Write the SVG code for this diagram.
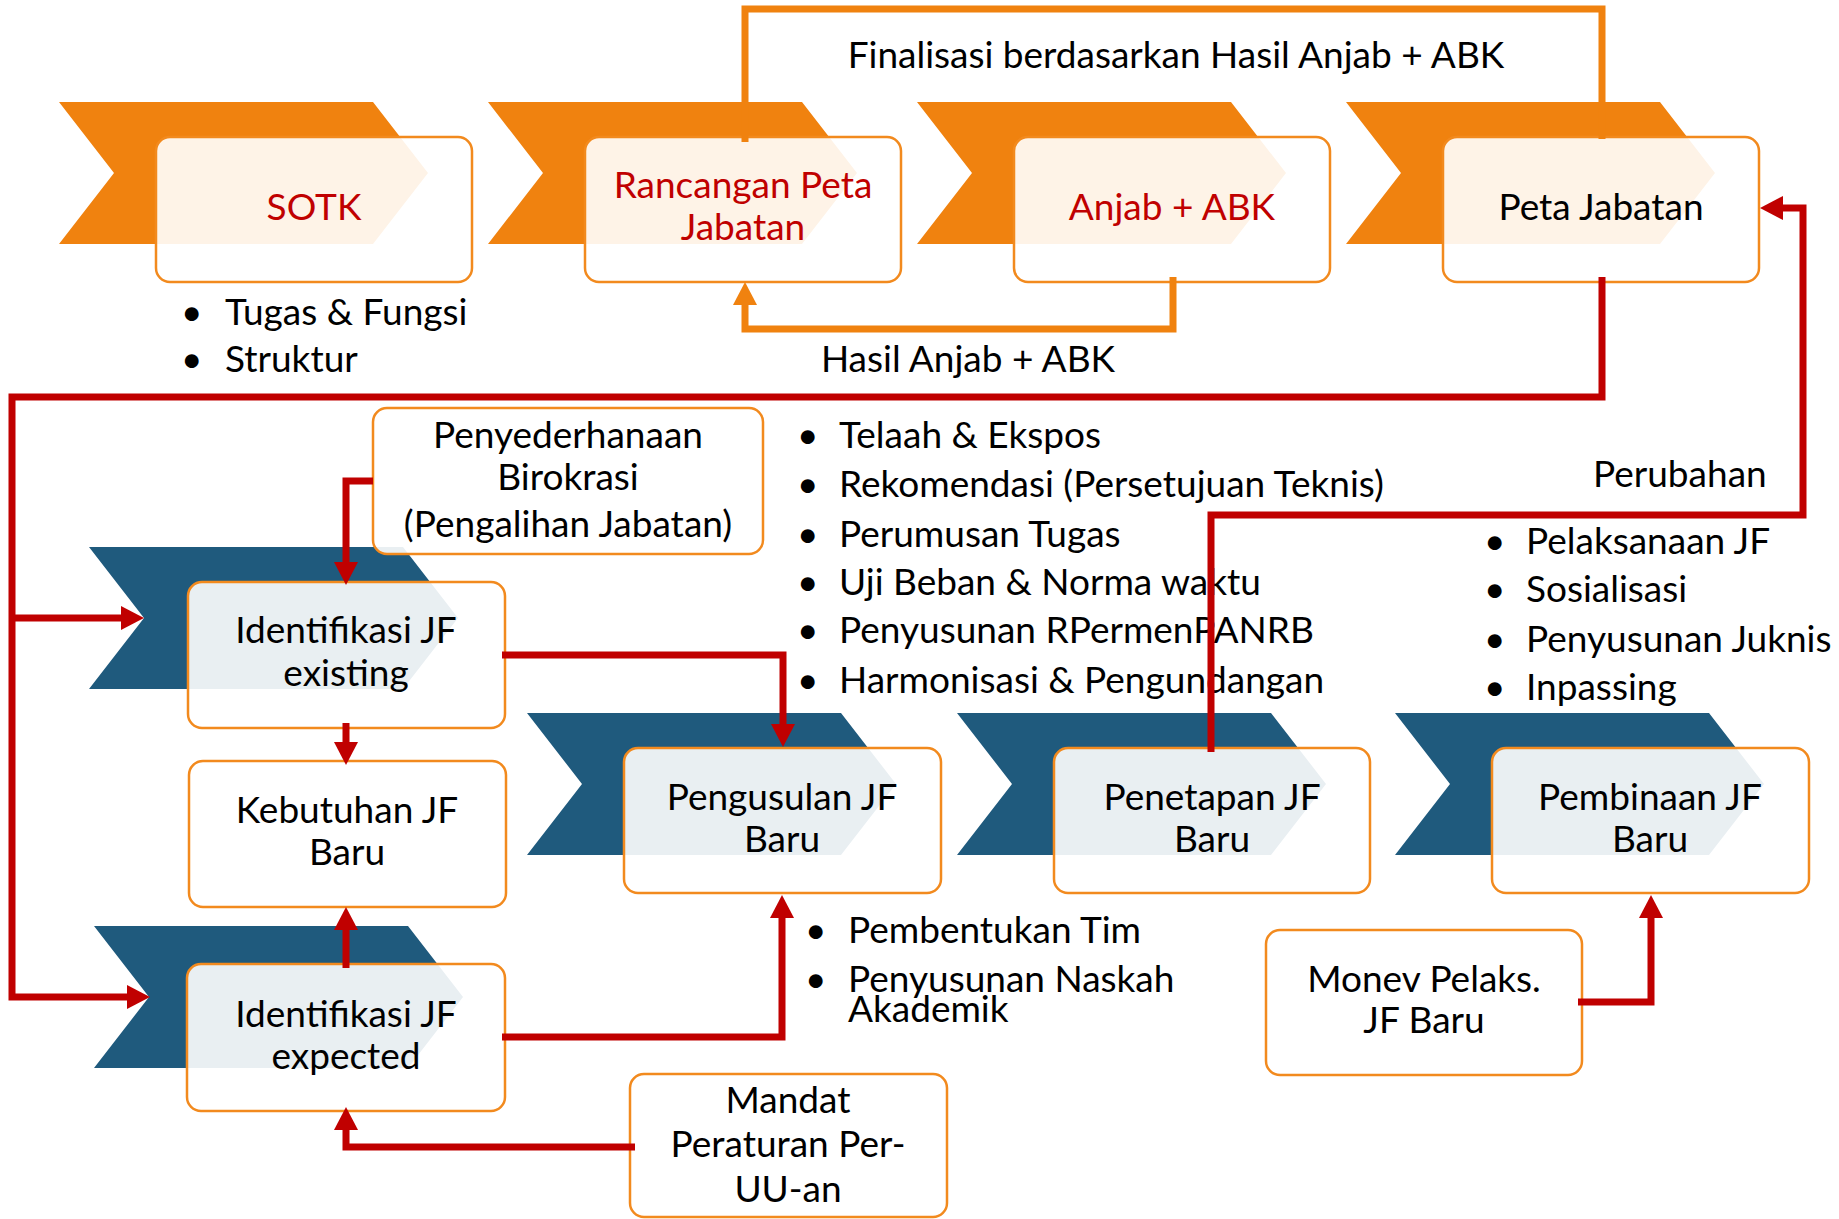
<svg xmlns="http://www.w3.org/2000/svg" width="1839" height="1219" viewBox="0 0 1839 1219">
  <style>
    .chev-o { fill: #F0820F; }
    .chev-b { fill: #1F5A7D; }
    .box { fill: #FFFFFF; fill-opacity: 0.9; stroke: #F28A1E; stroke-width: 2.5; }
    text { font-family: Lato, "Liberation Sans", sans-serif; font-size: 37px; fill: #000000; }
    .c { text-anchor: middle; }
    .red { fill: #C00000; }
    .ln-r { fill: none; stroke: #C00000; stroke-width: 7; }
    .ln-o { fill: none; stroke: #F0820F; stroke-width: 7; }
  </style>
  <defs>
    <marker id="ah-r" viewBox="0 0 23 24" markerWidth="23" markerHeight="24" refX="4" refY="12" orient="auto" markerUnits="userSpaceOnUse">
      <path d="M0,0 L23,12 L0,24 z" fill="#C00000"/>
    </marker>
    <marker id="ah-o" viewBox="0 0 23 24" markerWidth="23" markerHeight="24" refX="4" refY="12" orient="auto" markerUnits="userSpaceOnUse">
      <path d="M0,0 L23,12 L0,24 z" fill="#F0820F"/>
    </marker>
  </defs>

  <!-- top process row -->
  <g id="sotk">
    <polygon class="chev-o" points="59,102 373,102 428,173 373,244 59,244 114,173"/>
    <rect class="box" x="156" y="137" width="316" height="145" rx="14"/>
    <text class="c red" x="314" y="220">SOTK</text>
  </g>
  <g id="rancangan-peta-jabatan">
    <polygon class="chev-o" points="488,102 802,102 857,173 802,244 488,244 543,173"/>
    <rect class="box" x="585" y="137" width="316" height="145" rx="14"/>
    <text class="c red" x="743" y="198">Rancangan Peta</text>
    <text class="c red" x="743" y="240">Jabatan</text>
  </g>
  <g id="anjab-abk">
    <polygon class="chev-o" points="917,102 1231,102 1286,173 1231,244 917,244 972,173"/>
    <rect class="box" x="1014" y="137" width="316" height="145" rx="14"/>
    <text class="c red" x="1172" y="220">Anjab + ABK</text>
  </g>
  <g id="peta-jabatan">
    <polygon class="chev-o" points="1346,102 1660,102 1715,173 1660,244 1346,244 1401,173"/>
    <rect class="box" x="1443" y="137" width="316" height="145" rx="14"/>
    <text class="c" x="1601" y="220">Peta Jabatan</text>
  </g>

  <!-- JF process -->
  <g id="identifikasi-existing">
    <polygon class="chev-b" points="89,547 403,547 458,618 403,689 89,689 144,618"/>
    <rect class="box" x="188" y="582" width="317" height="146" rx="14"/>
    <text class="c" x="346" y="643">Identifikasi JF</text>
    <text class="c" x="346" y="686">existing</text>
  </g>
  <g id="kebutuhan-jf-baru">
    <rect class="box" x="189" y="761" width="317" height="146" rx="14"/>
    <text class="c" x="347" y="823">Kebutuhan JF</text>
    <text class="c" x="347" y="865">Baru</text>
  </g>
  <g id="identifikasi-expected">
    <polygon class="chev-b" points="94,926 408,926 463,997 408,1068 94,1068 149,997"/>
    <rect class="box" x="187" y="964" width="318" height="147" rx="14"/>
    <text class="c" x="346" y="1027">Identifikasi JF</text>
    <text class="c" x="346" y="1069">expected</text>
  </g>
  <g id="pengusulan">
    <polygon class="chev-b" points="527,713 841,713 896,784 841,855 527,855 582,784"/>
    <rect class="box" x="624" y="748" width="317" height="145" rx="14"/>
    <text class="c" x="782" y="810">Pengusulan JF</text>
    <text class="c" x="782" y="852">Baru</text>
  </g>
  <g id="penetapan">
    <polygon class="chev-b" points="957,713 1271,713 1326,784 1271,855 957,855 1012,784"/>
    <rect class="box" x="1054" y="748" width="316" height="145" rx="14"/>
    <text class="c" x="1212" y="810">Penetapan JF</text>
    <text class="c" x="1212" y="852">Baru</text>
  </g>
  <g id="pembinaan">
    <polygon class="chev-b" points="1395,713 1709,713 1764,784 1709,855 1395,855 1450,784"/>
    <rect class="box" x="1492" y="748" width="317" height="145" rx="14"/>
    <text class="c" x="1650" y="810">Pembinaan JF</text>
    <text class="c" x="1650" y="852">Baru</text>
  </g>
  <g id="penyederhanaan">
    <rect class="box" x="373" y="408" width="390" height="146" rx="14"/>
    <text class="c" x="568" y="448">Penyederhanaan</text>
    <text class="c" x="568" y="490">Birokrasi</text>
    <text class="c" x="568" y="537">(Pengalihan Jabatan)</text>
  </g>
  <g id="mandat">
    <rect class="box" x="630" y="1074" width="317" height="143" rx="14"/>
    <text class="c" x="788" y="1113">Mandat</text>
    <text class="c" x="788" y="1157">Peraturan Per-</text>
    <text class="c" x="788" y="1202">UU-an</text>
  </g>
  <g id="monev">
    <rect class="box" x="1266" y="930" width="316" height="145" rx="14"/>
    <text class="c" x="1424" y="992">Monev Pelaks.</text>
    <text class="c" x="1424" y="1033">JF Baru</text>
  </g>

  <!-- notes and bullet lists -->
  <g id="notes">
    <text class="c" x="1176" y="68">Finalisasi berdasarkan Hasil Anjab + ABK</text>
    <text class="c" x="968" y="372">Hasil Anjab + ABK</text>
    <text x="1593" y="487">Perubahan</text>

    <text x="181" y="325">•</text><text x="225" y="325">Tugas &amp; Fungsi</text>
    <text x="181" y="372">•</text><text x="225" y="372">Struktur</text>

    <text x="797" y="448">•</text><text x="839" y="448">Telaah &amp; Ekspos</text>
    <text x="797" y="497">•</text><text x="839" y="497">Rekomendasi (Persetujuan Teknis)</text>
    <text x="797" y="547">•</text><text x="839" y="547">Perumusan Tugas</text>
    <text x="797" y="595">•</text><text x="839" y="595">Uji Beban &amp; Norma waktu</text>
    <text x="797" y="643">•</text><text x="839" y="643">Penyusunan RPermenPANRB</text>
    <text x="797" y="693">•</text><text x="839" y="693">Harmonisasi &amp; Pengundangan</text>

    <text x="1484" y="554">•</text><text x="1526" y="554">Pelaksanaan JF</text>
    <text x="1484" y="602">•</text><text x="1526" y="602">Sosialisasi</text>
    <text x="1484" y="652">•</text><text x="1526" y="652">Penyusunan Juknis</text>
    <text x="1484" y="700">•</text><text x="1526" y="700">Inpassing</text>

    <text x="805" y="943">•</text><text x="848" y="943">Pembentukan Tim</text>
    <text x="805" y="992">•</text><text x="848" y="992">Penyusunan Naskah</text>
    <text x="848" y="1022">Akademik</text>
  </g>

  <!-- connectors -->
  <g id="connectors">
    <path class="ln-o" d="M745,142 V9 H1602 V139"/>
    <path class="ln-o" d="M1173,277 V329 H745 V301" marker-end="url(#ah-o)"/>

    <path class="ln-r" d="M1602,277 V397 H12 V997 H131" marker-end="url(#ah-r)"/>
    <path class="ln-r" d="M12,618 H125" marker-end="url(#ah-r)"/>
    <path class="ln-r" d="M373,481 H346 V566" marker-end="url(#ah-r)"/>
    <path class="ln-r" d="M346,723 V746" marker-end="url(#ah-r)"/>
    <path class="ln-r" d="M346,968 V926" marker-end="url(#ah-r)"/>
    <path class="ln-r" d="M502,655 H783 V728" marker-end="url(#ah-r)"/>
    <path class="ln-r" d="M502,1037 H782 V914" marker-end="url(#ah-r)"/>
    <path class="ln-r" d="M635,1147 H346 V1126" marker-end="url(#ah-r)"/>
    <path class="ln-r" d="M1211,752 V515 H1803 V208 H1779" marker-end="url(#ah-r)"/>
    <path class="ln-r" d="M1578,1002 H1651 V914" marker-end="url(#ah-r)"/>
  </g>
</svg>
